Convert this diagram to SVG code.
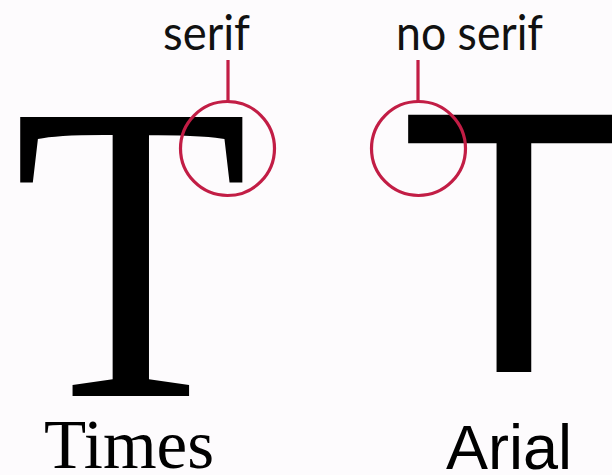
<svg xmlns="http://www.w3.org/2000/svg" width="612" height="475" viewBox="0 0 612 475">
  <style>
    .bg { fill: #fdfbfd; }
    .label { font-family: Lato, "Open Sans", sans-serif; font-size: 48px; fill: #111; }
    .serifT { font-family: "Liberation Serif", "Times New Roman", serif; fill: #000; }
    .sansT { font-family: "Liberation Sans", Arial, sans-serif; fill: #000; }
    .mark { fill: none; stroke: #c21d45; stroke-width: 3.2; }
  </style>
  <rect class="bg" x="0" y="0" width="612" height="475"/>

  <g id="times-T">
    <text class="serifT" font-size="426" text-anchor="middle" transform="translate(131,396) scale(0.905,1)" x="0" y="0">T</text>
  </g>
  <g id="arial-T">
    <text class="sansT" font-size="374" text-anchor="middle" x="514" y="372">T</text>
  </g>

  <g id="times-label">
    <text class="serifT" font-size="69" x="44" y="468">Times</text>
  </g>
  <g id="arial-label">
    <text class="sansT" font-size="63" x="446" y="469">Arial</text>
  </g>

  <g id="serif-label">
    <text class="label" x="163" y="50" textLength="87" lengthAdjust="spacingAndGlyphs">serif</text>
  </g>
  <g id="noserif-label">
    <text class="label" x="396" y="50" textLength="147" lengthAdjust="spacingAndGlyphs">no serif</text>
  </g>

  <g id="serif-circle">
    <circle class="mark" cx="227.5" cy="148.5" r="47"/>
  </g>
  <g id="noserif-circle">
    <circle class="mark" cx="418.5" cy="148.5" r="47"/>
  </g>

  <g id="connectors">
    <line class="mark" x1="228" y1="60" x2="228" y2="101.5"/>
    <line class="mark" x1="418" y1="60" x2="418" y2="101.5"/>
  </g>
</svg>
